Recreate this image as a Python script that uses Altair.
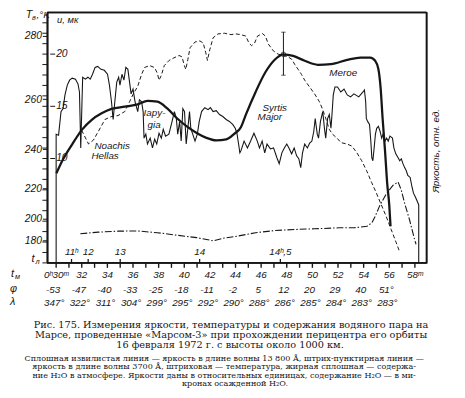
import altair as alt
import pandas as pd

# ---------------- data ----------------
# solid wavy line: brightness at 13 800 A (relative units) vs Moscow time (min after 0h)
wavy_t = [30.00, 30.00, 30.19, 30.38, 30.54, 30.69, 30.87, 31.05, 31.25, 31.51,
          31.71, 31.82, 31.92, 32.07, 32.28, 32.48, 32.66, 32.84, 33.04, 33.24,
          33.50, 33.76, 34.01, 34.16, 34.32, 34.45, 34.58, 34.73, 34.88, 34.98,
          35.14, 35.29, 35.44, 35.60, 35.73, 35.85, 36.00, 36.16, 36.37, 36.50,
          36.67, 36.79, 36.86, 37.00, 37.13, 37.34, 37.52, 37.69, 37.85, 38.03,
          38.21, 38.36, 38.54, 38.80, 39.05, 39.23, 39.38, 39.49, 39.64, 39.76,
          39.89, 40.02, 40.15, 40.28, 40.41, 40.51, 40.66, 40.84, 41.02, 41.17,
          41.35, 41.60, 41.86, 42.04, 42.25, 42.50, 42.75, 43.01, 43.27, 43.52,
          43.78, 43.98, 44.11, 44.24, 44.34, 44.42, 44.67, 44.93, 45.18, 45.44,
          45.70, 45.87, 46.08, 46.28, 46.46, 46.72, 46.97, 47.23, 47.41, 47.62,
          47.81, 48.00, 48.17, 48.38, 48.58, 48.77, 48.94, 49.09, 49.23, 49.40,
          49.61, 49.79, 49.96, 50.11, 50.22, 50.38, 50.48, 50.63, 50.81, 50.94,
          51.04, 51.19, 51.32, 51.45, 51.53, 51.63, 51.76, 51.96, 52.22, 52.47,
          52.72, 52.98, 53.24, 53.62, 53.95, 54.06, 54.16, 54.21, 54.31, 54.46,
          54.56, 54.64, 54.72, 54.82, 54.92, 55.02, 55.15, 55.28, 55.41, 55.54,
          55.67, 55.79, 55.92, 56.05, 56.25, 56.36, 56.51, 56.69, 56.82, 56.94,
          57.07, 57.20, 57.32, 57.45, 57.63, 57.78, 57.89, 58.04, 58.14, 58.24,
          58.30, 58.30]
wavy_b = [0.0, 13.1, 13.0, 15.4, 15.7, 17.1, 18.1, 18.6, 18.8, 18.7,
          18.2, 17.4, 11.7, 18.9, 18.7, 18.9, 18.7, 19.2, 19.9, 20.0,
          19.7, 19.6, 19.2, 18.1, 16.4, 14.6, 16.4, 18.4, 18.9, 18.1,
          19.2, 18.6, 19.9, 19.7, 18.4, 17.2, 17.7, 16.4, 15.4, 16.6,
          16.4, 15.4, 12.7, 13.1, 12.1, 12.7, 11.7, 12.6, 12.1, 13.2,
          12.7, 13.6, 12.9, 13.1, 14.4, 15.4, 14.7, 13.1, 14.4, 12.4,
          15.7, 15.4, 12.1, 13.7, 15.4, 13.7, 13.1, 12.4, 13.1, 14.4,
          15.4, 15.8, 15.6, 15.8, 15.4, 15.5, 15.1, 14.9, 14.6, 14.4,
          14.1, 13.7, 13.2, 12.1, 11.2, 11.4, 12.4, 11.7, 12.4, 13.2,
          12.4, 11.7, 12.4, 11.2, 12.1, 11.6, 11.7, 10.7, 10.1, 11.2,
          11.7, 12.1, 11.7, 11.1, 11.7, 10.9, 10.6, 9.7, 11.2, 12.1,
          11.7, 12.2, 12.4, 13.4, 14.7, 13.1, 12.7, 14.4, 15.4, 13.7,
          12.7, 14.7, 15.1, 13.7, 15.1, 17.1, 17.9, 17.9, 17.4, 17.7,
          17.1, 16.9, 17.2, 16.9, 17.4, 17.6, 16.4, 14.7, 14.4, 14.1,
          12.4, 10.7, 10.4, 11.7, 13.1, 13.7, 13.9, 13.4, 12.7, 13.2,
          12.4, 12.7, 12.4, 12.9, 12.7, 11.7, 11.1, 10.7, 10.4, 10.6,
          10.1, 9.7, 9.4, 8.9, 8.7, 7.7, 7.1, 6.7, 6.4, 6.1,
          5.9, 0.0]

# dash-dot line: brightness at 3700 A (relative units)
uv_t = [31.89, 33.30, 34.83, 36.37, 37.90, 39.43, 40.97, 42.25, 43.01, 44.03,
        45.57, 47.10, 48.63, 50.17, 52.09, 53.24, 54.26, 54.64, 54.90, 55.28,
        55.79, 56.30, 56.69, 56.94, 57.20, 57.58, 57.97, 58.09]
uv_b = [2.97, 3.13, 3.23, 3.25, 3.07, 2.82, 2.57, 2.25, 2.50, 2.70,
        3.07, 3.30, 3.40, 3.47, 3.57, 3.57, 3.73, 4.07, 4.73, 5.90,
        7.07, 7.90, 8.23, 7.40, 6.07, 4.40, 2.40, 1.90]

# dashed line: brightness temperature, K
temp_t = [31.99, 32.53, 32.91, 33.30, 33.81, 34.29, 34.83, 35.35, 35.73, 35.98,
          36.37, 36.67, 36.90, 37.29, 37.67, 37.90, 38.03, 38.21, 38.44, 38.82,
          39.20, 39.59, 39.82, 40.01, 40.12, 40.28, 40.45, 40.84, 41.22, 41.48,
          41.68, 41.81, 41.99, 42.25, 42.63, 43.14, 43.65, 44.03, 44.42, 44.80,
          45.05, 45.26, 45.49, 45.72, 46.10, 46.33, 46.56, 46.95, 47.33, 47.71,
          48.10, 48.40, 48.63, 48.89, 49.15, 49.40, 49.79, 50.17, 50.55, 50.81,
          51.07, 51.32, 51.57, 51.93, 52.24, 52.70, 53.08, 53.47, 53.85, 54.23,
          54.62, 55.00, 55.38, 55.77, 56.15, 56.53, 56.82]
temp_T = [248.2, 242.4, 244.1, 247.8, 252.5, 253.6, 254.0, 255.5, 259.1, 261.5,
          264.5, 268.4, 270.6, 271.2, 270.6, 268.8, 266.5, 268.1, 271.2, 272.8,
          273.6, 274.3, 273.9, 271.2, 270.0, 273.1, 276.6, 278.3, 278.6, 278.0,
          275.1, 272.8, 276.0, 279.5, 280.6, 280.8, 280.4, 280.6, 280.4, 280.0,
          278.0, 277.2, 278.0, 280.0, 280.7, 280.0, 277.7, 275.7, 274.7, 274.3,
          273.9, 273.1, 271.5, 270.0, 268.4, 266.5, 264.2, 261.9, 259.1, 256.2,
          252.5, 248.6, 246.6, 244.9, 243.0, 242.4, 241.5, 238.5, 234.7, 229.8,
          223.5, 217.2, 209.7, 201.2, 190.6, 177.9, 165.8]

# thick solid line: H2O content, microns of precipitated water
h2o_t = [30.02, 30.48, 31.25, 32.02, 32.78, 33.55, 34.32, 35.35, 36.37, 37.13,
         37.90, 38.67, 39.43, 40.20, 40.97, 41.73, 42.50, 43.27, 43.90, 44.42,
         44.80, 45.57, 46.33, 47.10, 47.74, 48.50, 49.40, 50.42, 51.45, 52.72,
         53.75, 54.52, 54.90, 55.15, 55.33, 55.48, 55.67, 55.84, 56.00, 56.10]
h2o_u = [8.59, 9.79, 11.36, 12.77, 13.71, 14.33, 14.75, 14.96, 15.18, 15.53,
         15.44, 14.80, 13.86, 13.08, 12.45, 11.98, 11.74, 11.83, 12.36, 13.00,
         14.18, 16.38, 18.26, 19.51, 19.98, 19.83, 19.36, 18.98, 19.04, 19.45,
         19.67, 19.67, 19.36, 18.57, 16.69, 13.86, 10.73, 7.60, 5.55, 3.51]

err_t = [47.74]
err_lo = [17.98]
err_hi = [22.10]
err_mid = [19.98]

u_tick_vals = list(range(0, 24))
u_label_vals = [10, 15, 20]
tb_ticks = [180, 200, 220, 240, 260, 280]
tm_ticks = list(range(30, 59))
tm_label_t = list(range(30, 59, 2))
tm_labels = ["0ʰ30ᵐ", "32", "34", "36", "38", "40", "42", "44", "46", "48",
             "50", "52", "54", "56", "58ᵐ"]
tl_labels = ["11ʰ", "12", "13", "14", "14ʰ,5"]
tl_t = [31.2, 32.5, 35.0, 41.2, 47.5]
row_t = list(range(30, 57, 2))
phi_labels = ["-53", "-47", "-40", "-33", "-25", "-18", "-11", "-2", "5", "12",
              "20", "29", "40", "51°"]
lam_labels = ["347°", "322°", "311°", "304°", "299°", "295°", "292°", "290°",
              "288°", "286°", "285°", "284°", "283°", "283°"]

cap_lines = ["Рис. 175. Измерения яркости, температуры и содержания водяного пара на",
             "Марсе, проведенные «Марсом-3» при прохождении перицентра его орбиты",
             "16 февраля 1972 г. с высоты около 1000 км."]
note_lines = ["Сплошная извилистая линия — яркость в длине волны 13 800 Å, штрих-пунктирная линия —",
              "яркость в длине волны 3700 Å, штриховая — температура, жирная сплошная — содержа-",
              "ние H₂O в атмосфере. Яркости даны в относительных единицах, содержание H₂O — в ми-",
              "кронах осажденной H₂O."]

# ---------------- chart ----------------
INK = "#161616"
SANS = "Liberation Sans"
SERIF = "DejaVu Serif"
W, H = 386, 255
T_LO, T_HI = 29.31, 58.91
B_LO, B_HI = 0.0, 25.5

xs = alt.Scale(domain=[T_LO, T_HI], nice=False, zero=False)
ys_b = alt.Scale(domain=[B_LO, B_HI], nice=False, zero=False)
ys_u = alt.Scale(domain=[0, 24], nice=False, zero=False)
ys_T = alt.Scale(type="pow", exponent=4, domain=[148.5, 286.5], nice=False, zero=False)

X0 = alt.X("t:Q", scale=xs, axis=None)

# frame of the plot, drawn through the scales
df_hframe = pd.DataFrame({"t0": [T_LO, T_LO], "t1": [T_HI, T_HI], "b": [B_LO, B_HI]})
hframe = alt.Chart(df_hframe).mark_rule(color=INK, strokeWidth=1.8).encode(
    x=alt.X("t0:Q", scale=xs, axis=None), x2="t1:Q",
    y=alt.Y("b:Q", scale=ys_b, axis=None))
df_vframe = pd.DataFrame({"t": [T_LO, T_HI], "b0": [B_LO, B_LO], "b1": [B_HI, B_HI]})
vframe = alt.Chart(df_vframe).mark_rule(color=INK, strokeWidth=1.8).encode(
    x=X0, y=alt.Y("b0:Q", scale=ys_b, axis=None), y2="b1:Q")

df_w = pd.DataFrame({"t": wavy_t, "b": wavy_b, "i": list(range(len(wavy_t)))})
wavy = alt.Chart(df_w).mark_line(color=INK, strokeWidth=1.1).encode(
    x=X0, y=alt.Y("b:Q", scale=ys_b, axis=None), order=alt.Order("i:Q"))

df_uv = pd.DataFrame({"t": uv_t, "b": uv_b})
uv = alt.Chart(df_uv).mark_line(color=INK, strokeWidth=1.1, strokeDash=[7, 2, 1.5, 2]).encode(
    x=X0, y=alt.Y("b:Q", scale=ys_b, axis=None))

df_T = pd.DataFrame({"t": temp_t, "T": temp_T})
temp = alt.Chart(df_T).mark_line(color=INK, strokeWidth=1.0, strokeDash=[4, 2.5]).encode(
    x=X0,
    y=alt.Y("T:Q", scale=ys_T, axis=alt.Axis(
        orient="left", values=tb_ticks, tickSize=5, labelPadding=1, title=None,
        labelFontSize=10.5, labelOverlap=False, labelFlush=False)))

df_h = pd.DataFrame({"t": h2o_t, "u": h2o_u})
h2o = alt.Chart(df_h).mark_line(color=INK, strokeWidth=2.3, interpolate="monotone").encode(
    x=X0, y=alt.Y("u:Q", scale=ys_u, axis=None))

df_e = pd.DataFrame({"t": err_t, "lo": err_lo, "hi": err_hi, "mid": err_mid})
err = alt.Chart(df_e).mark_rule(color=INK, strokeWidth=1).encode(
    x=X0, y=alt.Y("lo:Q", scale=ys_u, axis=None), y2="hi:Q")
cap_lo = alt.Chart(df_e).mark_point(shape="stroke", size=20, color=INK, strokeWidth=1).encode(
    x=X0, y=alt.Y("lo:Q", scale=ys_u, axis=None))
cap_hi = alt.Chart(df_e).mark_point(shape="stroke", size=20, color=INK, strokeWidth=1).encode(
    x=X0, y=alt.Y("hi:Q", scale=ys_u, axis=None))
mid = alt.Chart(df_e).mark_point(shape="circle", size=22, color=INK, strokeWidth=1, filled=False).encode(
    x=X0, y=alt.Y("mid:Q", scale=ys_u, axis=None))

df_ut = pd.DataFrame({"u": u_tick_vals})
u_ticks = alt.Chart(df_ut).mark_rule(color=INK, strokeWidth=1).encode(
    x=alt.value(-5), x2=alt.value(0), y=alt.Y("u:Q", scale=ys_u, axis=None))

df_ul = pd.DataFrame({"u": u_label_vals})
u_inner = alt.Chart(df_ul).mark_rule(color=INK, strokeWidth=1).encode(
    x=alt.value(3), x2=alt.value(8), y=alt.Y("u:Q", scale=ys_u, axis=None))
u_lab = alt.Chart(df_ul).mark_text(align="left", baseline="middle", font=SANS, fontStyle="italic",
                                   fontSize=10.5, color=INK).encode(
    x=alt.value(9), y=alt.Y("u:Q", scale=ys_u, axis=None), text="u:Q")

# bottom (Moscow time) axis drawn through the x scale; ticks hang 0.5 unit below the frame
df_tm = pd.DataFrame({"t": tm_ticks, "b0": [-0.5] * len(tm_ticks), "b1": [0.0] * len(tm_ticks)})
tm_tick_marks = alt.Chart(df_tm).mark_rule(color=INK, strokeWidth=1.4).encode(
    x=X0, y=alt.Y("b0:Q", scale=ys_b, axis=None), y2="b1:Q")
df_tml = pd.DataFrame({"t": tm_label_t, "s": tm_labels})
tm_text = alt.Chart(df_tml).mark_text(align="center", baseline="middle", font=SANS, fontStyle="italic",
                                      fontSize=10, color=INK).encode(
    x=X0, y=alt.value(H + 12), text="s:N")

df_tl = pd.DataFrame({"t": tl_t, "s": tl_labels, "b0": [0.0] * len(tl_t), "b1": [0.4] * len(tl_t)})
tl_ticks = alt.Chart(df_tl).mark_rule(color=INK, strokeWidth=1.3).encode(
    x=X0, y=alt.Y("b0:Q", scale=ys_b, axis=None), y2="b1:Q")
tl_text = alt.Chart(df_tl).mark_text(align="center", baseline="middle", font=SANS, fontStyle="italic",
                                     fontSize=10, color=INK).encode(
    x=X0, y=alt.value(H - 11), text="s:N")

df_rows = pd.DataFrame({"t": row_t, "phi": phi_labels, "lam": lam_labels})
phi_text = alt.Chart(df_rows).mark_text(align="center", baseline="middle", font=SANS, fontStyle="italic",
                                        fontSize=10, color=INK, dx=-3).encode(
    x=X0, y=alt.value(H + 28), text="phi:N")
lam_text = alt.Chart(df_rows).mark_text(align="center", baseline="middle", font=SANS, fontStyle="italic",
                                        fontSize=10, color=INK, dx=-2).encode(
    x=X0, y=alt.value(H + 41), text="lam:N")


def label(s, x, y, size=10, align="left", font=SANS, style="italic", angle=0):
    kw = dict(align=align, baseline="middle", font=font, fontSize=size, color=INK,
              fontStyle=style)
    if angle:
        kw["angle"] = angle
    return alt.Chart(pd.DataFrame({"s": [s]})).mark_text(**kw).encode(
        x=alt.value(x), y=alt.value(y), text="s:N")


annotations = [
    label("Noachis", 48, 136),
    label("Hellas", 45, 146),
    label("Iapy-", 98, 102),
    label("gia", 102, 115),
    label("Syrtis", 219, 97),
    label("Major", 214, 107),
    label("Meroe", 287, 62),
    label("u, мк", 10, 8, size=9.5),
    label("T", -22, 3, size=11),
    label("в", -15.5, 6, size=7.5),
    label(",°K", -11, 3, size=10),
    label("Яркость, отн. ед.", 396, 141, size=10, align="center", angle=270),
    label("t", -16, 251, size=11),
    label("л", -12, 254, size=7.5),
    label("t", -37, 266, size=11),
    label("м", -33, 269, size=7.5),
    label("φ", -38, 282, size=11),
    label("λ", -38, 295, size=11),
]

captions = [
    label(cap_lines[0], 187, 318.5, size=9.9, align="center", font=SERIF, style="normal"),
    label(cap_lines[1], 187, 328.5, size=9.9, align="center", font=SERIF, style="normal"),
    label(cap_lines[2], 186, 338.5, size=9.9, align="center", font=SERIF, style="normal"),
    label(note_lines[0], 180, 353, size=8.2, align="center", font=SERIF, style="normal"),
    label(note_lines[1], 180, 361.5, size=8.2, align="center", font=SERIF, style="normal"),
    label(note_lines[2], 180, 370, size=8.2, align="center", font=SERIF, style="normal"),
    label(note_lines[3], 191, 378.5, size=8.2, align="center", font=SERIF, style="normal"),
]

chart = alt.layer(
    hframe, vframe, wavy, uv, temp, h2o, err, cap_lo, cap_hi, mid, u_ticks, u_inner, u_lab,
    tm_tick_marks, tm_text, tl_ticks, tl_text, phi_text, lam_text, *annotations, *captions
).resolve_scale(y="independent").properties(
    width=W, height=H,
    padding={"left": 40, "top": 1, "right": 31, "bottom": 130},
    autosize=alt.AutoSizeParams(type="none"),
    background="white",
).configure_view(stroke=INK, strokeWidth=1.2).configure_axis(
    domainColor=INK, tickColor=INK, labelColor=INK, grid=False,
    labelFont=SANS, labelFontStyle="italic", domainWidth=1.2, tickWidth=1)

chart.save("out.html", embed_options={"renderer": "svg", "actions": False})
